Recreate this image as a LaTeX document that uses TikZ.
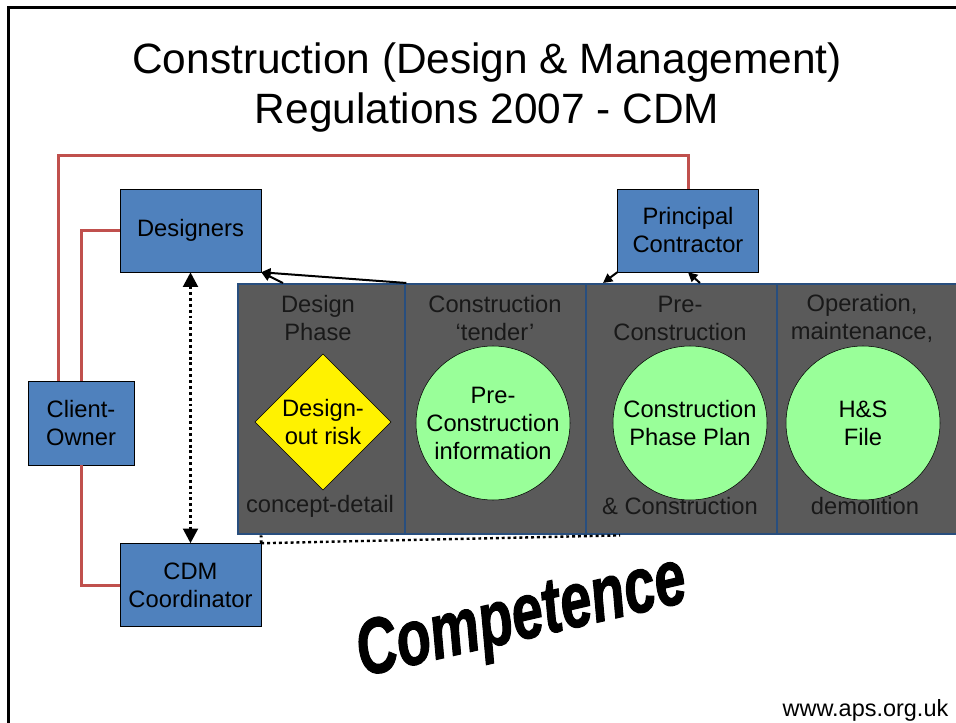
\documentclass[tikz,border=0pt]{standalone}
\usepackage{fontspec}
\setmainfont{Liberation Sans}
\newfontfamily\competencefont[BoldItalicFeatures={FakeBold=1.6}]{Liberation Sans}
\usetikzlibrary{arrows.meta,shapes.geometric}
\definecolor{partyblue}{HTML}{4F81BD}
\definecolor{linkred}{HTML}{C0504D}
\definecolor{bandgray}{HTML}{5A5A5A}
\definecolor{bandblue}{HTML}{284E7E}
\definecolor{docgreen}{HTML}{99FF99}
\newcommand{\boxfont}{\fontsize{17.8}{21}\selectfont}
\tikzset{
    party/.style={draw=black, fill=partyblue, font=\boxfont, align=center, inner sep=0pt,
        minimum width=105.75pt, minimum height=62.25pt},
    phasecol/.style={draw=bandblue, line width=1.8pt, fill=bandgray, anchor=north west,
        inner sep=0pt, minimum height=187.5pt},
    phasetext/.style={font=\boxfont, align=center, text=black!90},
    docdisk/.style={circle, draw=black, fill=docgreen, font=\boxfont, align=center,
        inner sep=0pt, minimum size=115.5pt},
    redlink/.style={draw=linkred, line width=2.25pt},
    dotlink/.style={line width=2.2pt, dash pattern=on 2.2pt off 2.2pt}
}
\begin{document}
\begin{tikzpicture}[x=0.75pt, y=-0.75pt]
    \useasboundingbox (0,0) rectangle (956,723);
    % Draw the frame
    \draw[line width=2.25pt] (8,723) -- (8,8) -- (958,8);
    % Title
    \node[font=\fontsize{31.8}{37.5}\selectfont, align=center] (title) at (487,88)
        {Construction (Design \& Management)\\Regulations 2007 - CDM};
    % Draw the phase band
    \foreach \name/\x/\w in {phaseA/237/125.25pt, phaseB/404/135.75pt,
            phaseC/585/143.25pt, phaseD/776/140pt} {
            \node[phasecol, minimum width=\w] (\name) at (\x,283) {};
        }
    \node[phasetext] (headA) at (318,318) {Design\\Phase};
    \node[phasetext] (headB) at (495,318) {Construction\\`tender'};
    \node[phasetext] (headC) at (680,318) {Pre-\\Construction};
    \node[phasetext] (headD) at (862,318) {Operation,\\maintenance,};
    \node[phasetext] (conceptA) at (320,506) {concept-detail};
    \node[phasetext] (buildC) at (680,506) {\& Construction};
    \node[phasetext] (demolD) at (865,506) {demolition};
    % Documents of each phase
    \node[diamond, aspect=1, draw=black, fill=yellow, font=\boxfont, align=center,
        inner sep=0pt, minimum width=102pt, minimum height=102pt] (risk) at (323,422)
        {Design-\\out risk};
    \node[docdisk] (preinfo) at (493,423) {Pre-\\Construction\\information};
    \node[docdisk] (cpp) at (690,423) {Construction\\Phase Plan};
    \node[docdisk] (hsfile) at (863,423) {H\&S\\File};
    % The duty holders
    \node[party] (designers) at (190.5,230.5) {Designers};
    \node[party] (pc) at (688,230.5) {Principal\\Contractor};
    \node[party, minimum width=79.5pt, minimum height=63pt] (client) at (81,423) {Client-\\Owner};
    \node[party] (cdm) at (190.5,585) {CDM\\Coordinator};
    % Draw the red links from the client
    \draw[redlink] ([xshift=-17.25pt]client.north) |- ([yshift=24.75pt]pc.north) -- (pc.north);
    \draw[redlink] (client.north) |- (designers.west);
    \draw[redlink] (client.south) |- (cdm.west);
    % Draw the arrows to the band
    \draw[line width=1.5pt, -{Triangle[length=7pt, width=7pt]}] ([xshift=34.5pt]phaseA.north west) -- (designers.south east);
    \draw[line width=1.5pt, -{Triangle[length=7pt, width=7pt]}] (phaseA.north east) -- (designers.south east);
    \draw[line width=1.5pt, -{Triangle[length=7pt, width=7pt]}] (pc.south west) -- ([xshift=13.5pt]phaseC.north west);
    \draw[line width=1.5pt, -{Triangle[length=7pt, width=7pt]}] ([xshift=86.25pt]phaseC.north west) -- (pc.south);
    % Draw the dotted links of the coordinator
    \draw[dotlink, {Triangle[length=11pt, width=11pt]}-{Triangle[length=11pt, width=11pt]}] (designers.south) -- (cdm.north);
    \draw[dotlink] (cdm.north east) -- ([xshift=18pt]phaseA.south west);
    \draw[dotlink, line width=1.8pt] (cdm.north east) -- ([xshift=26.25pt]phaseC.south west);
    % Competence
    \node[font=\competencefont\fontsize{42}{42}\selectfont\bfseries\itshape, rotate=13, yscale=1.4] (competence) at (522,620) {Competence};
    \node[font=\fontsize{17.6}{20}\selectfont, anchor=base east] (web) at (953,716) {www.aps.org.uk};
\end{tikzpicture}
\end{document}
